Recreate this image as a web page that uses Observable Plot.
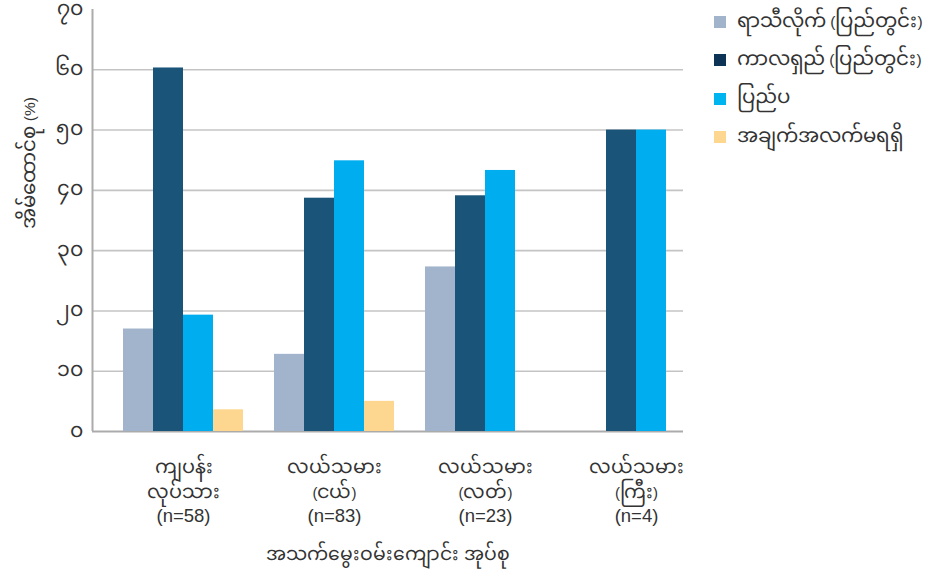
<!DOCTYPE html>
<html>
<head>
<meta charset="utf-8">
<script src="https://cdn.jsdelivr.net/npm/d3@7"></script>
<script src="https://cdn.jsdelivr.net/npm/@observablehq/plot@0.6"></script>
<style>
  @font-face {
    font-family: "MyanmarBig";
    src: local("Noto Sans Myanmar"), local("NotoSansMyanmar-Regular"), local("Noto Sans Myanmar UI"), local("NotoSansMyanmarUI-Regular"), local("Padauk"), local("Myanmar Text");
    size-adjust: 128%;
    unicode-range: U+1000-109F, U+A9E0-A9FF, U+AA60-AA7F;
  }
  html, body { margin: 0; padding: 0; background: #fff; }
  #wrap { position: relative; width: 944px; height: 573px; font-family: "Liberation Sans", "MyanmarBig", "Noto Sans", sans-serif; }
  #wrap svg { position: absolute; left: 0; top: 0; }
  #legend { position: absolute; left: 714px; top: 3px; font-size: 15.5px; color: #333; }
  #legend .row { display: flex; align-items: center; height: 38.3px; }
  #legend .sw { width: 12px; height: 12px; margin-right: 11px; flex: none; }
</style>
</head>
<body>
<div id="wrap"><div id="legend"></div></div>
<script>
// ---- data ----
const groupNames = ["ကျပန်း\nလုပ်သား", "လယ်သမား\n(ငယ်)", "လယ်သမား\n(လတ်)", "လယ်သမား\n(ကြီး)"];
const groupN = [58, 83, 23, 4];
const seriesNames = ["ရာသီလိုက် (ပြည်တွင်း)", "ကာလရှည် (ပြည်တွင်း)", "ပြည်ပ", "အချက်အလက်မရရှိ"];
const seasonal = [17.0, 12.8, 27.3, null];
const longTerm = [60.3, 38.7, 39.1, 50.0];
const abroad   = [19.3, 44.9, 43.3, 50.0];
const noData   = [3.6, 5.0, null, null];
const yTicks = [0, 10, 20, 30, 40, 50, 60, 70];
const gridTicks = [10, 20, 30, 40, 50, 60];
const barColors = ["#a2b4cc", "#1b5479", "#00adef", "#fdd78f"];
const legendColors = ["#a2b4cc", "#0d3355", "#00b4f0", "#fdd78f"];
const yLabel = "အိမ်ထောင်စု (%)";
const xLabel = "အသက်မွေးဝမ်းကျောင်း အုပ်စု";

const seriesValues = [seasonal, longTerm, abroad, noData];
const rows = [];
groupNames.forEach((g, gi) => {
  seriesNames.forEach((s, si) => {
    const v = seriesValues[si][gi];
    if (v != null) rows.push({group: gi, series: s, value: v});
  });
});

const myan = d => String(d).replace(/\d/g, c => String.fromCharCode(0x1040 + (+c)));
const font = '"Liberation Sans", "MyanmarBig", "Noto Sans", sans-serif';
const common = {
  width: 944, height: 573,
  marginLeft: 92, marginRight: 261, marginTop: 9, marginBottom: 142,
  y: {domain: [0, 70], axis: null}
};

function draw() {
  // background: grid, axes, y labels, axis titles
  const back = Plot.plot({
    ...common,
    style: {fontFamily: font, color: "#333", background: "#fff"},
    x: {domain: [0, 1], axis: null},
    marks: [
      Plot.ruleY(gridTicks, {stroke: "#c4c4c4", strokeWidth: 1.6}),
      Plot.ruleY([0], {stroke: "#ababab", strokeWidth: 2}),
      Plot.ruleX([0], {y1: 0, y2: 70, stroke: "#ababab", strokeWidth: 2}),
      Plot.axisY(yTicks, {tickSize: 0, tickPadding: 10, fontSize: 16, tickFormat: myan, label: null}),
      Plot.text([yLabel], {frameAnchor: "left", rotate: -90, dx: -62, dy: 8, fontSize: 15.5, fill: "#333"}),
      Plot.text([xLabel], {frameAnchor: "bottom", dy: 128, fontSize: 14.7, fill: "#333"})
    ]
  });

  // foreground: grouped bars and group labels
  const front = Plot.plot({
    ...common,
    style: {fontFamily: font, color: "#333", background: "transparent"},
    fx: {domain: [0, 1, 2, 3], range: [123, 696.5], paddingInner: 31 / 151, paddingOuter: 0},
    x: {domain: seriesNames, padding: 0, axis: null},
    color: {domain: seriesNames, range: barColors},
    marks: [
      Plot.barY(rows, {fx: "group", x: "series", y: "value", fill: "series"}),
      Plot.axisFx({anchor: "bottom", tickSize: 0, tickPadding: 23, fontSize: 15, lineHeight: 1.7,
        tickFormat: i => groupNames[i], label: null}),
      Plot.axisFx({anchor: "bottom", tickSize: 0, tickPadding: 77, fontSize: 18.5,
        tickFormat: i => "(n=" + groupN[i] + ")", label: null})
    ]
  });

  const wrap = document.getElementById("wrap");
  wrap.prepend(back, front);

  const legend = document.getElementById("legend");
  seriesNames.forEach((s, i) => {
    const row = document.createElement("div");
    row.className = "row";
    const sw = document.createElement("span");
    sw.className = "sw";
    sw.style.background = legendColors[i];
    const t = document.createElement("span");
    t.textContent = s;
    row.append(sw, t);
    legend.append(row);
  });
}
draw();
</script>
</body>
</html>
